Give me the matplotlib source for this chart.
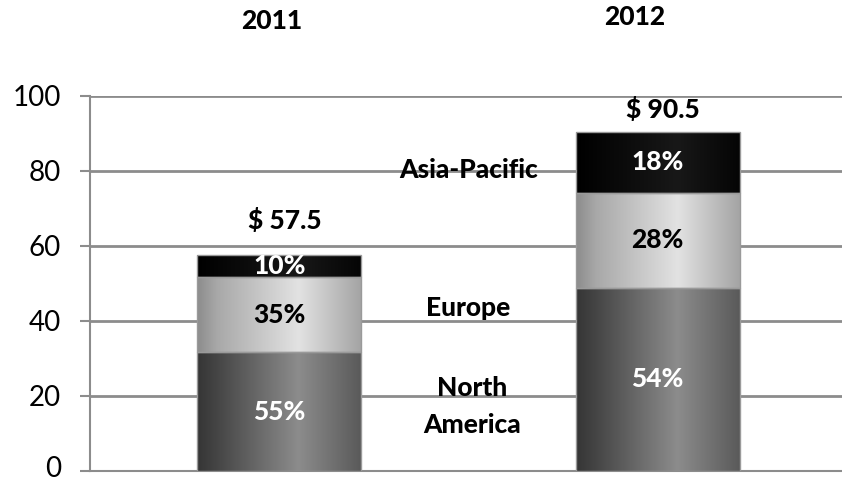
import numpy as np
import matplotlib.pyplot as plt
import matplotlib.transforms as mtransforms
from matplotlib.colors import LinearSegmentedColormap

# データ
years = ["2011", "2012"]
totals = [57.5, 90.5]
regions = ["North America", "Europe", "Asia-Pacific"]
shares = {
    "North America": [55, 54],
    "Europe": [35, 28],
    "Asia-Pacific": [10, 18],
}
y_ticks = [0, 20, 40, 60, 80, 100]

# 横方向グラデーション
grad_stops = {
    "North America": [(0.0, "#353535"), (0.12, "#454545"), (0.62, "#8c8c8c"), (1.0, "#5a5a5a")],
    "Europe": [(0.0, "#8c8c8c"), (0.12, "#a8a8a8"), (0.62, "#e2e2e2"), (1.0, "#a4a4a4")],
    "Asia-Pacific": [(0.0, "#000000"), (0.62, "#181818"), (1.0, "#050505")],
}
label_colors = {"North America": "white", "Europe": "black", "Asia-Pacific": "white"}
total_offsets = [9.2, 5.8]

plt.rcParams["font.family"] = ["Lato", "DejaVu Sans"]
FS = 19

fig = plt.figure(figsize=(8.42, 4.83), dpi=100)
ax = fig.add_axes([90 / 842, 1 - 471 / 483, 1 - 90 / 842, (471 - 96) / 483])

x = np.arange(len(years))
width = 0.433
bottoms = np.zeros(len(years))
grad = np.linspace(0, 1, 256).reshape(1, -1)

for r in regions:
    heights = np.array(totals) * np.array(shares[r]) / 100.0
    bars = ax.bar(x, heights, width, bottom=bottoms, facecolor="none",
                  edgecolor="#9a9a9a", linewidth=1.0, zorder=4)
    cmap = LinearSegmentedColormap.from_list(r, grad_stops[r])
    for i, b in enumerate(bars):
        x0, y0 = b.get_x(), b.get_y()
        im = ax.imshow(grad, cmap=cmap, aspect="auto", zorder=3,
                       extent=[x0, x0 + b.get_width(), y0, y0 + b.get_height()])
        im.set_clip_path(b)
        ax.text(x[i], bottoms[i] + heights[i] / 2, f"{shares[r][i]}%",
                ha="center", va="center", fontsize=FS, fontweight="black",
                color=label_colors[r], zorder=6)
    bottoms = bottoms + heights

# 合計ラベル
for i, t in enumerate(totals):
    ax.text(x[i] + 0.015, t + total_offsets[i], f"$ {t}", ha="center", va="center",
            fontsize=FS, fontweight="black", color="black", zorder=6)

# 地域名ラベル
ax.text(0.5, 80.3, "Asia-Pacific", ha="center", va="center", fontsize=FS,
        fontweight="black", zorder=6)
ax.text(0.5, 43.5, "Europe", ha="center", va="center", fontsize=FS,
        fontweight="black", zorder=6)
ax.text(0.51, 17.3, "North\nAmerica", ha="center", va="center", fontsize=FS,
        fontweight="black", linespacing=1.65, zorder=6)

# 年ラベル
fig.text(272 / 842, 1 - 21 / 483, years[0], ha="center", va="center",
         fontsize=FS, fontweight="black")
fig.text(635 / 842, 1 - 17 / 483, years[1], ha="center", va="center",
         fontsize=FS, fontweight="black")

ax.set_xlim(-0.5, 1.487)
ax.set_ylim(0, 100)
ax.set_yticks(y_ticks)
ax.set_xticks([])
ax.tick_params(axis="y", labelsize=20, length=7, width=1.5, color="#8c8c8c", pad=14)
ax.yaxis.grid(True, color="#8c8c8c", linewidth=2)
ax.set_axisbelow(True)
for s in ["top", "right"]:
    ax.spines[s].set_visible(False)
for s in ["left", "bottom"]:
    ax.spines[s].set_color("#8c8c8c")
    ax.spines[s].set_linewidth(1.5)

# 0 のラベルが下端で切れないよう少し上げる
fig.canvas.draw()
lbl0 = ax.get_yticklabels()[0]
lbl0.set_transform(lbl0.get_transform() +
                   mtransforms.ScaledTranslation(0, 3 / 72, fig.dpi_scale_trans))

plt.savefig("out.png", dpi=100)
plt.close()
